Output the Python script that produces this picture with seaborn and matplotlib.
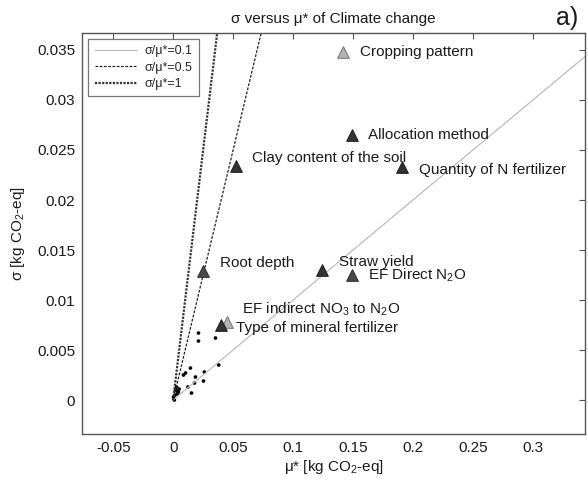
import numpy as np
import pandas as pd
import matplotlib
matplotlib.use("Agg")
import matplotlib.pyplot as plt
from matplotlib.ticker import FuncFormatter, MultipleLocator
import seaborn as sns

# Labelled factors (triangles)
factors = ["Cropping pattern", "Allocation method", "Quantity of N fertilizer",
           "Clay content of the soil", "Root depth", "Straw yield",
           r"EF Direct N$_2$O", r"EF indirect NO$_3$ to N$_2$O",
           "Type of mineral fertilizer"]
mu_star = [0.142, 0.149, 0.191, 0.052, 0.0253, 0.124, 0.149, 0.045, 0.040]
sigma = [0.0348, 0.0265, 0.0233, 0.0234, 0.0129, 0.0130, 0.0125, 0.0078, 0.0075]
shade = ["light", "dark", "dark", "dark", "mid", "dark", "mid", "light", "dark"]
# label offsets in points (dx, dy)
offsets = [(12, 0), (12, 0), (12, -2), (12, 6), (12, 6), (12, 6), (12, 0), (11, 9), (11, -2)]

# Unlabelled factors (small dots)
dot_mu = [0.0211, 0.0211, 0.0353, 0.038, 0.026, 0.0144, 0.0103, 0.0086, 0.0186,
          0.0253, 0.0178, 0.0123, 0.0153, 0.002, 0.0044, 0.0003, 0.001, 0.0028,
          0.0005, 0.0015, 0.003, 0.005, 0.0035]
dot_sigma = [0.0067, 0.0059, 0.0062, 0.0035, 0.0028, 0.0032, 0.0027, 0.0025, 0.0023,
             0.0019, 0.0017, 0.0013, 0.0007, 0.0010, 0.0008, 0.0003, 0.0000, 0.0013,
             0.0001, 0.0005, 0.0009, 0.0011, 0.0006]

# Reference ratio lines sigma/mu*
ratios = [0.1, 0.5, 1]
ratio_labels = ["σ/μ*=0.1", "σ/μ*=0.5", "σ/μ*=1"]
ratio_styles = [dict(color="#bdbdbd", lw=0.9, ls="-"),
                dict(color="#222222", lw=0.9, ls=(0, (2.2, 1.2))),
                dict(color="#333333", lw=1.6, ls=(0, (1.0, 0.6)))]

sns.set_style("white")
plt.rcParams["font.family"] = ["Liberation Sans", "DejaVu Sans"]
plt.rcParams["mathtext.fontset"] = "custom"
plt.rcParams["mathtext.rm"] = "Liberation Sans"
plt.rcParams["mathtext.it"] = "Liberation Sans:italic"

fig = plt.figure(figsize=(5.88, 4.83), dpi=100)
ax = fig.add_axes([0.1395, 0.1014, 0.8555, 0.8303])

mu_range = np.array([0.0, 0.4])
for r, lab, st in zip(ratios, ratio_labels, ratio_styles):
    ax.plot(mu_range, r * mu_range, label=lab, **st)

dots = pd.DataFrame({"mu": dot_mu, "sigma": dot_sigma})
sns.scatterplot(data=dots, x="mu", y="sigma", color="black", s=7,
                edgecolor="none", ax=ax, legend=False)

df = pd.DataFrame({"factor": factors, "mu": mu_star, "sigma": sigma, "shade": shade})
pal = {"dark": "#333333", "mid": "#4a4a4a", "light": "#b5b5b5"}
edges = {"dark": "#222222", "mid": "#333333", "light": "#7a7a7a"}
for key in ["light", "dark", "mid"]:
    sub = df[df["shade"] == key]
    sns.scatterplot(data=sub, x="mu", y="sigma", marker="^", s=70,
                    color=pal[key], edgecolor=edges[key], linewidth=0.8,
                    ax=ax, legend=False, zorder=4)

for (name, x, y), (dx, dy) in zip(zip(factors, mu_star, sigma), offsets):
    ax.annotate(name, (x, y), xytext=(dx, dy), textcoords="offset points",
                ha="left", va="center", fontsize=11, color="#1a1a1a", zorder=5)

ax.set_xlim(-0.076, 0.3435)
ax.set_ylim(-0.0034, 0.0367)
ax.xaxis.set_major_locator(MultipleLocator(0.05))
ax.yaxis.set_major_locator(MultipleLocator(0.005))
fmt = FuncFormatter(lambda v, p: "%g" % round(v, 4))
ax.xaxis.set_major_formatter(fmt)
ax.yaxis.set_major_formatter(fmt)
ax.tick_params(direction="in", length=4, width=0.8, color="#555555",
               labelsize=11, labelcolor="#1a1a1a", top=True, right=True, pad=5)
for sp in ax.spines.values():
    sp.set_color("#555555")
    sp.set_linewidth(1.0)

ax.set_xlabel(r"μ* [kg CO$_2$-eq]", fontsize=11, color="#1a1a1a", labelpad=2)
ax.set_ylabel(r"σ [kg CO$_2$-eq]", fontsize=11, color="#1a1a1a", labelpad=7)
ax.set_title("σ versus μ* of Climate change", fontsize=11, color="#1a1a1a", pad=7)
fig.text(0.965, 0.962, "a)", fontsize=18, color="#1a1a1a", ha="center", va="center")

leg = ax.legend(loc="upper left", fontsize=9, frameon=True, fancybox=False,
                borderaxespad=0.5, handlelength=3.4, labelspacing=0.35,
                borderpad=0.5, handletextpad=0.6)
leg.get_frame().set_edgecolor("#555555")
leg.get_frame().set_linewidth(0.9)

fig.savefig("out.png", dpi=100)
